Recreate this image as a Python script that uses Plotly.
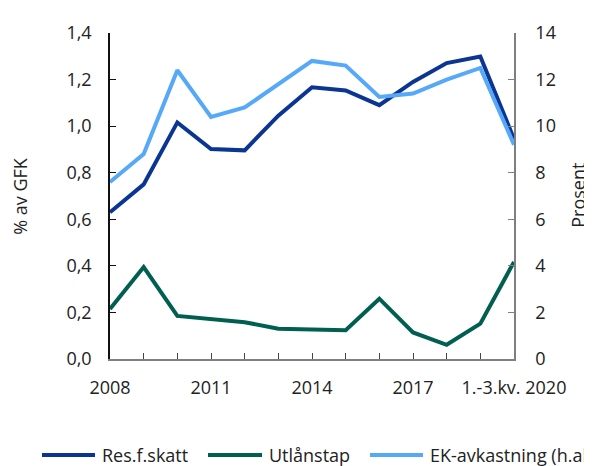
import plotly.graph_objects as go

categories = ["2008", "2009", "2010", "2011", "2012", "2013", "2014", "2015",
              "2016", "2017", "2018", "2019", "1.-3.kv. 2020"]
res_f_skatt = [0.63, 0.75, 1.016, 0.902, 0.896, 1.045, 1.167, 1.153, 1.09, 1.19, 1.271, 1.299, 0.945]
utlanstap = [0.215, 0.395, 0.185, 0.172, 0.158, 0.13, 0.127, 0.124, 0.259, 0.114, 0.061, 0.152, 0.417]
ek_avkastning = [7.6, 8.8, 12.4, 10.4, 10.8, 11.8, 12.8, 12.6, 11.25, 11.4, 12.0, 12.5, 9.2]
tick_labels = ["2008", "", "", "2011", "", "", "2014", "", "", "2017", "", "", "1.-3.kv. 2020"]

series_names = ["Res.f.skatt", "Utlånstap", "EK-avkastning (h.akse)"]
colors = ["#0a3592", "#005f50", "#56a8f8"]

FONT = "Open Sans"
x = list(range(len(categories)))

fig = go.Figure()
fig.add_trace(go.Scatter(x=x, y=res_f_skatt, mode="lines", name=series_names[0],
                         line=dict(color=colors[0], width=4), showlegend=False, yaxis="y"))
fig.add_trace(go.Scatter(x=x, y=utlanstap, mode="lines", name=series_names[1],
                         line=dict(color=colors[1], width=4), showlegend=False, yaxis="y"))
fig.add_trace(go.Scatter(x=x, y=ek_avkastning, mode="lines", name=series_names[2],
                         line=dict(color=colors[2], width=4), showlegend=False, yaxis="y2"))

OFF = 8  # page body margin
W, H = 592 - OFF, 466 - OFF
# target page pixel positions
PL, PR, PT, PB = 110, 514, 25, 359.5
L = PL - OFF
T = PT - OFF
pw = PR - PL
ph = PB - PT
R = W - L - pw
B = H - T - ph

def px_to_paper_x(px):
    return (px - PL) / pw

def px_to_paper_y(py):
    return (PB - py) / ph

# custom legend
legend_items = [(42, 95, 100), (208, 262, 267), (370, 423, 428)]
shapes = []
annotations = []
for (x0, x1, tx), name, c in zip(legend_items, series_names, colors):
    yy = px_to_paper_y(458)
    shapes.append(dict(type="line", xref="paper", yref="paper",
                       x0=px_to_paper_x(x0), x1=px_to_paper_x(x1), y0=yy, y1=yy,
                       line=dict(color=c, width=4)))
    annotations.append(dict(text=name, xref="paper", yref="paper",
                            x=px_to_paper_x(tx), y=yy, xanchor="left", yanchor="middle",
                            showarrow=False, font=dict(family=FONT, size=18, color="#222")))

annotations.append(dict(text="% av GFK", xref="paper", yref="paper",
                        x=px_to_paper_x(20), y=px_to_paper_y(192), textangle=-90,
                        xanchor="center", yanchor="middle", showarrow=False,
                        font=dict(family=FONT, size=18, color="#222")))
annotations.append(dict(text="Prosent", xref="paper", yref="paper",
                        x=px_to_paper_x(578), y=px_to_paper_y(192), textangle=-90,
                        xanchor="center", yanchor="middle", showarrow=False,
                        font=dict(family=FONT, size=18, color="#222")))

fig.update_layout(
    width=W, height=H,
    margin=dict(l=L, r=R, t=T, b=B, pad=0),
    paper_bgcolor="white", plot_bgcolor="white",
    separators=", ",
    font=dict(family=FONT, size=18, color="#222"),
    shapes=shapes, annotations=annotations,
    xaxis=dict(range=[0, 12], tickmode="array", tickvals=x, ticktext=tick_labels,
               showgrid=False, zeroline=False, showline=True, linecolor="#7f7f7f",
               linewidth=1.5, ticks="inside", ticklen=6, tickcolor="#444",
               ticklabelstandoff=12,
               tickfont=dict(family=FONT, size=18, color="#222")),
    yaxis=dict(range=[0, 1.4], dtick=0.2, tick0=0, tickformat=".1f",
               showgrid=False, zeroline=False, showline=True, linecolor="#111",
               linewidth=1.5, ticks="inside", ticklen=6, tickcolor="#111",
               ticklabelstandoff=13,
               tickfont=dict(family=FONT, size=18, color="#222")),
    yaxis2=dict(range=[0, 14], dtick=2, tick0=0, overlaying="y", side="right",
                showgrid=False, zeroline=False, showline=True, linecolor="#7f7f7f",
                linewidth=1.5, ticks="inside", ticklen=6, tickcolor="#7f7f7f",
                ticklabelstandoff=16,
                tickfont=dict(family=FONT, size=18, color="#222")),
)

fig.write_html("out.html")
